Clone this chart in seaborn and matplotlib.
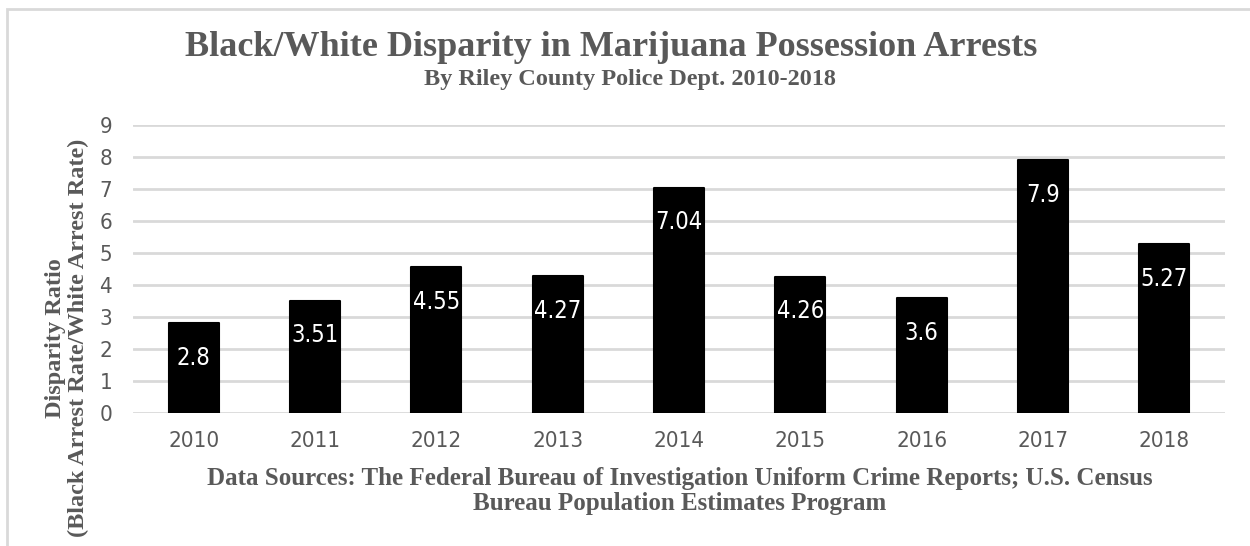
import matplotlib
matplotlib.use("Agg")
import matplotlib.pyplot as plt
import pandas as pd
import seaborn as sns
from matplotlib.patches import Rectangle

years = ["2010", "2011", "2012", "2013", "2014", "2015", "2016", "2017", "2018"]
ratios = [2.8, 3.51, 4.55, 4.27, 7.04, 4.26, 3.6, 7.9, 5.27]
y_ticks = [0, 1, 2, 3, 4, 5, 6, 7, 8, 9]

TITLE = "Black/White Disparity in Marijuana Possession Arrests"
SUBTITLE = "By Riley County Police Dept. 2010-2018"
Y_LABEL = "Disparity Ratio\n(Black Arrest Rate/White Arrest Rate)"
X_LABEL = ("Data Sources: The Federal Bureau of Investigation Uniform Crime Reports; U.S. Census\n"
           "Bureau Population Estimates Program")

GREY = "#595959"
GRID = "#d9d9d9"
SERIF = ["Liberation Serif", "DejaVu Serif"]


def main() -> None:
    df = pd.DataFrame({"year": years, "ratio": ratios})

    sns.set_theme(style="white")
    plt.rcParams["font.family"] = ["DejaVu Sans"]

    fig = plt.figure(figsize=(12.5, 5.46), dpi=100)
    ax = fig.add_axes([133 / 1250, 1 - 413 / 546, (1225 - 133) / 1250, (413 - 125) / 546])

    sns.barplot(data=df, x="year", y="ratio", ax=ax, color="black", width=0.41,
                edgecolor="black", linewidth=1.5, saturation=1)
    for p in ax.patches:
        p.set_joinstyle("round")

    ax.set_ylim(0, 9)
    ax.set_yticks(y_ticks)
    ax.yaxis.grid(True, color=GRID, linewidth=2)
    ax.set_axisbelow(True)
    sns.despine(ax=ax, left=True, bottom=True)
    ax.tick_params(axis="both", length=0, labelsize=16, labelcolor=GREY)
    ax.tick_params(axis="x", pad=13)
    ax.tick_params(axis="y", pad=15)
    for lab in ax.get_xticklabels() + ax.get_yticklabels():
        lab.set_fontstretch("condensed")
    ax.set_xlabel("")
    ax.set_ylabel("")

    for i, v in enumerate(ratios):
        ax.annotate(f"{v:g}", xy=(i, v), xytext=(0, -25), textcoords="offset points",
                    ha="center", va="center", color="white", fontsize=17,
                    fontstretch="condensed")

    fig.text(611 / 1250, 1 - 47 / 546, TITLE, ha="center", va="center",
             fontsize=26, fontweight="bold", color=GREY, family=SERIF)
    fig.text(630 / 1250, 1 - 80 / 546, SUBTITLE, ha="center", va="center",
             fontsize=17.5, fontweight="bold", color=GREY, family=SERIF)
    fig.text(680 / 1250, 1 - 491 / 546, X_LABEL, ha="center", va="center",
             fontsize=18, fontweight="bold", color=GREY, family=SERIF, linespacing=1.08)
    fig.text(67 / 1250, 1 - 338 / 546, Y_LABEL, ha="center", va="center", rotation=90,
             fontsize=17.5, fontweight="bold", color=GREY, family=SERIF, linespacing=1.12)

    fig.patches.append(Rectangle((7 / 1250, -0.2), 1.2, 1.2 - 9 / 546, transform=fig.transFigure,
                                 fill=False, edgecolor=GRID, linewidth=2))

    fig.savefig("out.png", dpi=100)
    plt.close(fig)


if __name__ == "__main__":
    main()
